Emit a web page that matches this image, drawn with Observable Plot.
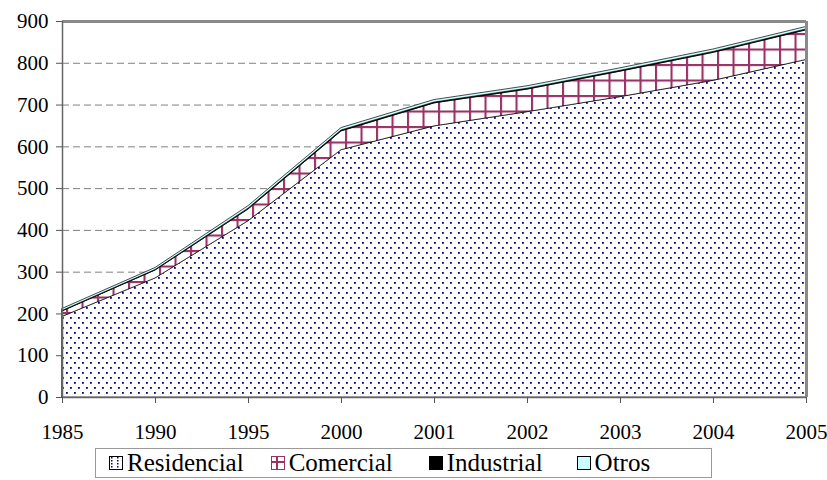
<!DOCTYPE html>
<html>
<head>
<meta charset="utf-8">
<script src="https://cdn.jsdelivr.net/npm/d3@7"></script>
<script src="https://cdn.jsdelivr.net/npm/@observablehq/plot@0.6"></script>
<style>
  body { margin: 0; background: #fff; font-family: "Liberation Serif", "Times New Roman", Times, "Noto Serif", "DejaVu Serif", serif; }
  #chart { position: relative; width: 827px; }
  #chart svg text { font-family: "Liberation Serif", "Times New Roman", Times, "Noto Serif", "DejaVu Serif", serif !important; }
  #legend {
    margin-left: 95px; width: 617px; height: 30px; margin-top: 3px;
    border: 1px solid #9a9a9a; display: flex; align-items: center;
    font-size: 25px; color: #000; box-sizing: border-box;
  }
  #legend .item { display: flex; align-items: center; }
  #legend svg { margin-right: 4px; }
</style>
</head>
<body>
<svg width="0" height="0" style="position:absolute">
  <defs>
    <pattern id="pRes" patternUnits="userSpaceOnUse" width="8" height="10">
      <rect width="8" height="10" fill="#fff"></rect>
      <rect x="2" y="2" width="1.8" height="1.8" fill="#000080"></rect>
      <rect x="6" y="7" width="1.8" height="1.8" fill="#000080"></rect>
    </pattern>
    <pattern id="pCom" patternUnits="userSpaceOnUse" width="15.5" height="15.5" patternTransform="translate(4,2)">
      <rect width="15.5" height="15.5" fill="#fff"></rect>
      <line x1="1" y1="0" x2="1" y2="15.5" stroke="#993366" stroke-width="2.2"></line>
      <line x1="0" y1="1" x2="15.5" y2="1" stroke="#993366" stroke-width="2.2"></line>
    </pattern>
    <pattern id="pResL" patternUnits="userSpaceOnUse" width="6" height="6">
      <rect width="6" height="6" fill="#fff"></rect>
      <rect x="2" y="1" width="1.5" height="1.5" fill="#000080"></rect>
      <rect x="2" y="4" width="1.5" height="1.5" fill="#000080"></rect>
    </pattern>
  </defs>
</svg>
<div id="chart"></div>
<div id="legend"></div>
<script>
const years = ["1985","1990","1995","2000","2001","2002","2003","2004","2005"];
const seriesNames = ["Residencial","Comercial","Industrial","Otros"];
const residencial = [193, 285, 422, 592, 649, 683, 719, 758, 808];
const comercial   = [13, 19, 28, 45, 55, 54, 61, 67, 71];
const industrial  = [1, 1, 2, 2, 2, 2, 2, 2, 2];
const otros       = [5, 5, 6, 6, 6, 6, 6, 6, 6];
const yTicks = [0,100,200,300,400,500,600,700,800,900];
const gridTicks = [100,200,300,400,500,600,700,800];
const fills = ["url(#pRes)", "url(#pCom)", "#000000", "#ccffff"];
const serifFont = "Liberation Serif, Times New Roman, Times, Noto Serif, DejaVu Serif, serif";

const valuesBySeries = [residencial, comercial, industrial, otros];
const data = [];
seriesNames.forEach((s, i) => years.forEach((yr, j) => data.push({year: yr, series: s, value: valuesBySeries[i][j]})));

const plot = Plot.plot({
  width: 827,
  height: 445,
  marginLeft: 62,
  marginRight: 21,
  marginTop: 21,
  marginBottom: 48,
  style: {fontFamily: serifFont, fontSize: "21px", color: "#000", background: "#fff", overflow: "visible"},
  x: {type: "point", domain: years, padding: 0},
  y: {domain: [0, 900]},
  color: {domain: seriesNames, range: fills},
  marks: [
    Plot.ruleY(gridTicks, {stroke: "#808080", strokeWidth: 1, strokeDasharray: "7,4"}),
    Plot.areaY(data, Plot.stackY({x: "year", y: "value", z: "series", fill: "series", order: seriesNames, stroke: "#000", strokeWidth: 0.7, strokeLinejoin: "round"})),
    Plot.ruleY([900], {stroke: "#8a8a8a", strokeWidth: 3}),
    Plot.ruleX(["2005"], {stroke: "#8a8a8a", strokeWidth: 3}),
    Plot.ruleX(["1985"], {stroke: "#666", strokeWidth: 1.5}),
    Plot.ruleY([0], {stroke: "#666", strokeWidth: 1.5}),
    Plot.axisY({ticks: yTicks, tickSize: 6, tickPadding: 8, stroke: "#555", label: null, fontSize: 21, fontFamily: serifFont}),
    Plot.axisX({tickSize: 6, tickPadding: 21, stroke: "#555", label: null, fontSize: 21, fontFamily: serifFont})
  ]
});
document.getElementById("chart").appendChild(plot);

// Legend
const legend = d3.select("#legend");
const swatchSpecs = [
  {fill: "url(#pResL)", stroke: "#000", ml: 13},
  {fill: "none", cross: true, ml: 27},
  {fill: "#000", stroke: "#000", ml: 36},
  {fill: "#ccffff", stroke: "#000", ml: 34}
];
seriesNames.forEach((s, i) => {
  const spec = swatchSpecs[i];
  const item = legend.append("div").attr("class", "item").style("margin-left", spec.ml + "px");
  const sv = item.append("svg").attr("width", 14).attr("height", 14);
  if (spec.cross) {
    sv.append("rect").attr("x", 0.5).attr("y", 0.5).attr("width", 13).attr("height", 13).attr("fill", "#fff").attr("stroke", "#993366");
    sv.append("line").attr("x1", 6).attr("x2", 6).attr("y1", 0).attr("y2", 14).attr("stroke", "#993366").attr("stroke-width", 2);
    sv.append("line").attr("x1", 0).attr("x2", 14).attr("y1", 6).attr("y2", 6).attr("stroke", "#993366").attr("stroke-width", 2);
  } else {
    sv.append("rect").attr("x", 0.5).attr("y", 0.5).attr("width", 13).attr("height", 13).attr("fill", spec.fill).attr("stroke", spec.stroke);
  }
  item.append("span").text(s);
});
</script>
</body>
</html>
